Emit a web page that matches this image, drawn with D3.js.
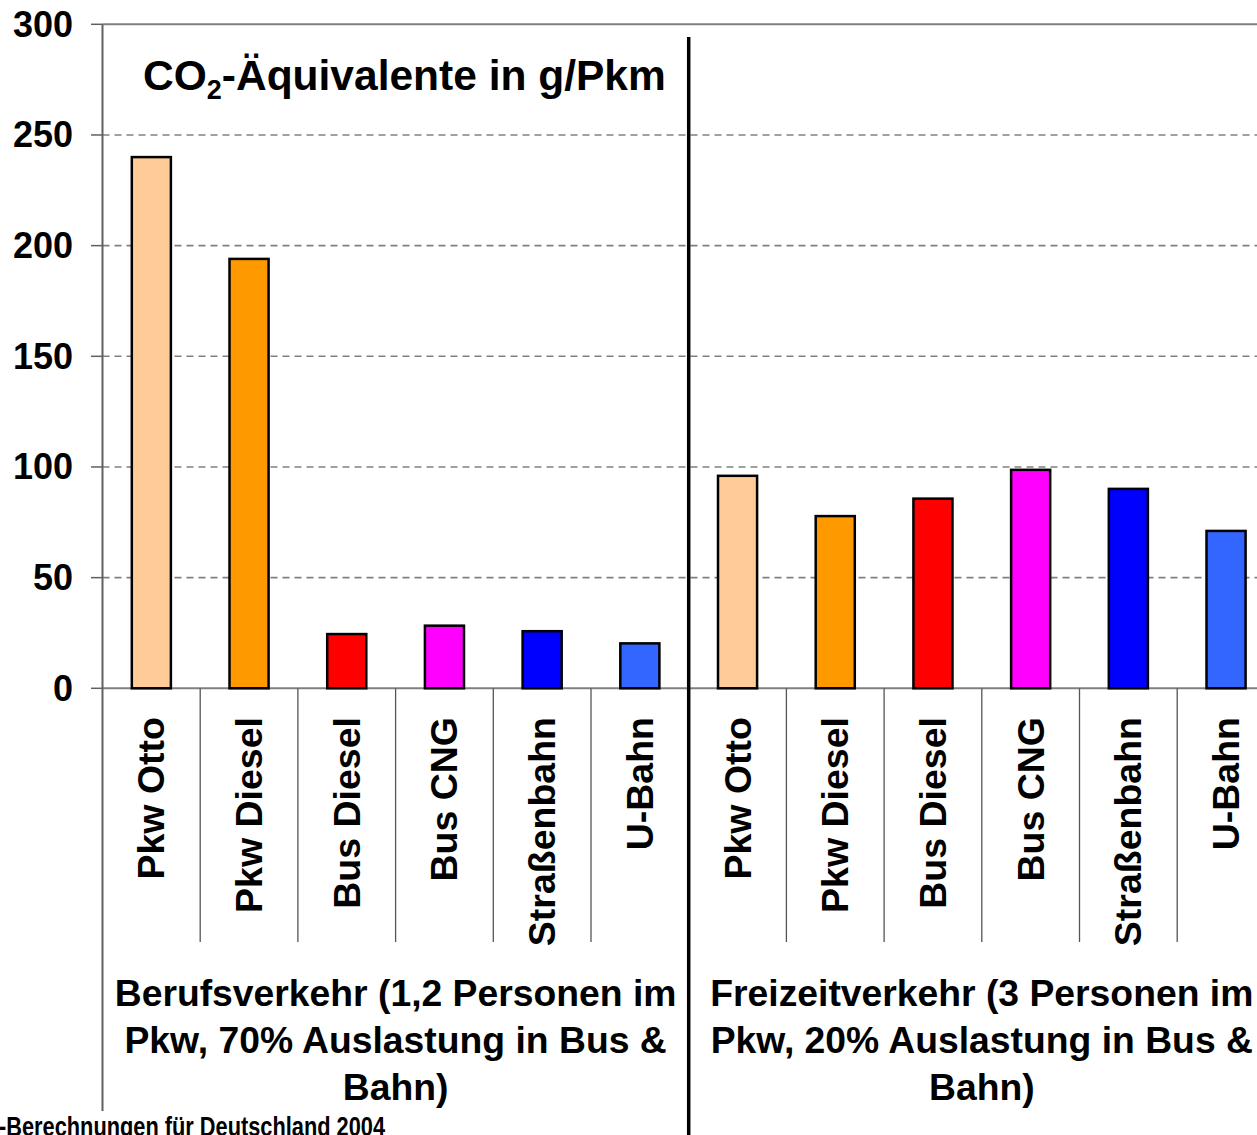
<!DOCTYPE html>
<html>
<head>
<meta charset="utf-8">
<script src="https://cdn.jsdelivr.net/npm/d3@7"></script>
<style>
  html, body { margin: 0; padding: 0; background: #fff; overflow: hidden; }
  svg { display: block; }
  text { font-family: "Liberation Sans", Arial, sans-serif; font-weight: bold; fill: #000; }
</style>
</head>
<body>
<svg id="chart" width="1257" height="1135"></svg>
<script>
// Vehicle types, repeated for each traffic scenario
const categories = ["Pkw Otto", "Pkw Diesel", "Bus Diesel", "Bus CNG", "Straßenbahn", "U-Bahn"];
const colors = ["#FFCC99", "#FF9900", "#FF0000", "#FF00FF", "#0000FF", "#3366FF"];

// CO2-equivalents in g per passenger-km
const berufsValues = [240, 194, 24.5, 28.3, 25.8, 20.3];
const freizeitValues = [96, 77.8, 85.7, 98.7, 90.1, 71.1];

const groupLabels = [
  ["Berufsverkehr (1,2 Personen im", "Pkw, 70% Auslastung in Bus &", "Bahn)"],
  ["Freizeitverkehr (3 Personen im", "Pkw, 20% Auslastung in Bus &", "Bahn)"]
];
const yTicks = [0, 50, 100, 150, 200, 250, 300];

const rows = [];
[berufsValues, freizeitValues].forEach((vals, g) => {
  vals.forEach((v, i) => rows.push({ key: g + "-" + i, group: g, cat: categories[i], color: colors[i], value: v }));
});

const svg = d3.select("#chart");
const W = 1257;
const x0 = 102.5, step = 97.7;
const x = d3.scaleBand()
  .domain(rows.map(d => d.key))
  .range([x0, x0 + step * rows.length])
  .paddingInner(0.6)
  .paddingOuter(0.3);
const y = d3.scaleLinear().domain([0, 300]).range([688.3, 24.3]);

// Grid lines and y ticks
yTicks.forEach(t => {
  const solid = (t === 0 || t === 300);
  svg.append("line")
    .attr("x1", x0).attr("x2", W).attr("y1", y(t)).attr("y2", y(t))
    .attr("stroke", "#808080").attr("stroke-width", solid ? 2 : 1.6)
    .attr("stroke-dasharray", solid ? null : "7,5");
  svg.append("line")
    .attr("x1", 91).attr("x2", x0).attr("y1", y(t)).attr("y2", y(t))
    .attr("stroke", "#606060").attr("stroke-width", 1.5);
  svg.append("text")
    .attr("x", 73).attr("y", y(t))
    .attr("text-anchor", "end").attr("dominant-baseline", "central")
    .style("font-size", "36px")
    .text(t);
});

// Category separators below the baseline
rows.forEach((d, i) => {
  if (i === 0 || i === 6) return;
  const xs = x(d.key) - x.step() * x.paddingInner() / 2;
  svg.append("line")
    .attr("x1", xs).attr("x2", xs).attr("y1", y(0)).attr("y2", 942)
    .attr("stroke", "#555").attr("stroke-width", 1.3);
});

// Y axis line
svg.append("line")
  .attr("x1", x0).attr("x2", x0).attr("y1", y(300)).attr("y2", 1111)
  .attr("stroke", "#606060").attr("stroke-width", 2);

// Bars
svg.append("g").selectAll("rect").data(rows).join("rect")
  .attr("x", d => x(d.key))
  .attr("width", x.bandwidth())
  .attr("y", d => y(d.value))
  .attr("height", d => y(0) - y(d.value))
  .attr("fill", d => d.color)
  .attr("stroke", "#000").attr("stroke-width", 2.5);

// Rotated category labels
svg.append("g").selectAll("text").data(rows).join("text")
  .attr("transform", d => `translate(${x(d.key) + x.bandwidth() / 2},717) rotate(-90)`)
  .attr("text-anchor", "end").attr("dominant-baseline", "central")
  .style("font-size", "37.5px")
  .text(d => d.cat);

// Group captions
groupLabels.forEach((lines, g) => {
  const cx = x0 + step * 6 * g + step * 3;
  lines.forEach((ln, k) => {
    svg.append("text")
      .attr("x", cx).attr("y", 1006 + k * 47)
      .attr("text-anchor", "middle")
      .style("font-size", "37.3px")
      .text(ln);
  });
});

// Divider between the two scenarios
const xDiv = x0 + step * 6;
svg.append("line")
  .attr("x1", xDiv).attr("x2", xDiv).attr("y1", 37).attr("y2", 1135)
  .attr("stroke", "#000").attr("stroke-width", 3.5);

// Chart title with subscript
const title = svg.append("text")
  .attr("x", 143).attr("y", 90)
  .style("font-size", "42.5px");
title.append("tspan").text("CO");
title.append("tspan").attr("dy", 9).style("font-size", "27px").text("2");
title.append("tspan").attr("dy", -9).text("-Äquivalente in g/Pkm");

// Source note
svg.append("text")
  .attr("x", -1).attr("y", 1136)
  .attr("textLength", 386).attr("lengthAdjust", "spacingAndGlyphs")
  .style("font-family", "'Liberation Sans Narrow', 'Liberation Sans', Arial, sans-serif")
  .style("font-size", "27px")
  .text("-Berechnungen für Deutschland 2004");
</script>
</body>
</html>
